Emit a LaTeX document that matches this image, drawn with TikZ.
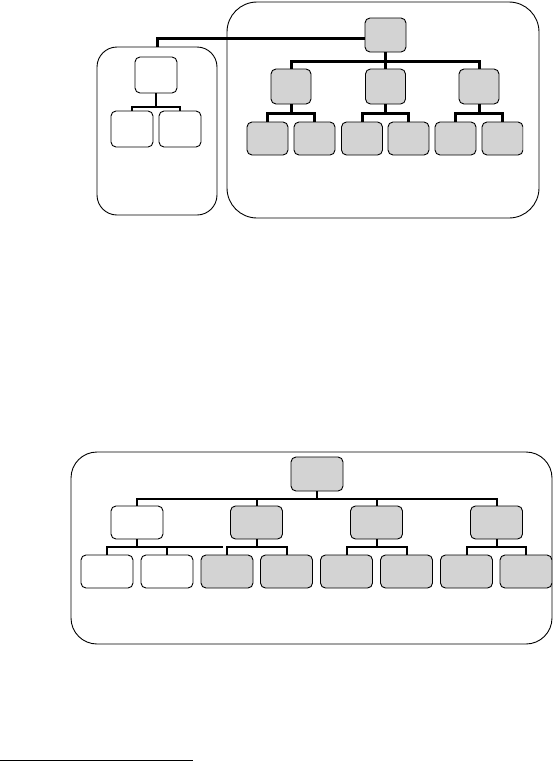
\documentclass[tikz,border=0pt]{standalone}
\usetikzlibrary{calc}
\definecolor{boxgray}{RGB}{211,211,211}
\tikzset{
  box/.style={draw=black, line width=0.9pt, rounded corners=5pt, inner sep=0pt, minimum height=34pt},
  gbox/.style={box, fill=boxgray},
  wbox/.style={box, fill=white},
  cont/.style={draw=black, line width=0.9pt, inner sep=0pt},
  thickwire/.style={line width=3pt},
  wire/.style={line width=2pt},
}
\begin{document}
\begin{tikzpicture}[x=1pt,y=-1pt]
\useasboundingbox (0,0) rectangle (553,761);
% ---------- top part ----------
\node[cont, rounded corners=30pt, minimum width=312pt, minimum height=216pt] (RC) at (383,110) {};
\node[cont, rounded corners=20pt, minimum width=120pt, minimum height=168pt] (LC) at (157,131) {};
% right tree
\node[gbox, minimum width=41pt, minimum height=34pt] (R) at (385.5,35) {};
\node[gbox, minimum width=40pt, minimum height=35pt] (m1) at (291,86.5) {};
\node[gbox, minimum width=40pt, minimum height=35pt] (m2) at (385.5,86.5) {};
\node[gbox, minimum width=40pt, minimum height=35pt] (m3) at (479,86.5) {};
\node[gbox, minimum width=41pt, minimum height=33pt] (b1) at (267.5,138.5) {};
\node[gbox, minimum width=41pt, minimum height=33pt] (b2) at (314.5,138.5) {};
\node[gbox, minimum width=41pt, minimum height=33pt] (b3) at (362,138.5) {};
\node[gbox, minimum width=41pt, minimum height=33pt] (b4) at (408.5,138.5) {};
\node[gbox, minimum width=41pt, minimum height=33pt] (b5) at (455.5,138.5) {};
\begin{scope}
\clip (400,100) rectangle (523,170);
\node[gbox, minimum width=41pt, minimum height=33pt] (b6) at (502.5,138.5) {};
\end{scope}
\coordinate (busT) at (0,61);
\coordinate (busS) at (0,113);
\draw[thickwire] (R.south) -- (R.south |- busT);
\draw[thickwire] (m1.north) -- (m1.north |- busT) -- (m3.north |- busT) -- (m3.north);
\draw[thickwire] (m2.north) -- (m2.north |- busT);
\foreach \p/\a/\b in {m1/b1/b2, m2/b3/b4, m3/b5/b6}{
  \draw[thickwire] (\p.south) -- (\p.south |- busS);
  \draw[thickwire] (\a.north) -- (\a.north |- busS) -- (\b.north |- busS) -- (\b.north);
}
% left tree
\node[wbox, minimum width=42pt, minimum height=36pt] (L) at (156,75) {};
\node[wbox, minimum width=42pt, minimum height=36pt] (l1) at (132,129) {};
\node[wbox, minimum width=42pt, minimum height=36pt] (l2) at (180,129) {};
\coordinate (busL) at (0,107);
\draw[wire] (L.south) -- (L.south |- busL);
\draw[wire] (l1.north) -- (l1.north |- busL) -- (l2.north |- busL) -- (l2.north);
% link between trees
\draw[thickwire] ([yshift=-3pt]R.west) -| (LC.north);
% ---------- bottom part ----------
\node[cont, rounded corners=26pt, minimum width=481pt, minimum height=192pt] (BC) at (311.5,548) {};
\node[gbox, minimum width=52pt, minimum height=34pt] (BR) at (317,474) {};
\node[wbox, minimum width=52pt, minimum height=33pt] (n1) at (137,522.5) {};
\node[gbox, minimum width=52pt, minimum height=33pt] (n2) at (256.5,522.5) {};
\node[gbox, minimum width=52pt, minimum height=33pt] (n3) at (376.5,522.5) {};
\node[gbox, minimum width=52pt, minimum height=33pt] (n4) at (496.5,522.5) {};
\node[wbox, minimum width=52pt, minimum height=33pt] (k1) at (107,571.5) {};
\node[wbox, minimum width=52pt, minimum height=33pt] (k2) at (167,571.5) {};
\node[gbox, minimum width=52pt, minimum height=33pt] (k3) at (227,571.5) {};
\node[gbox, minimum width=52pt, minimum height=33pt] (k4) at (286.5,571.5) {};
\node[gbox, minimum width=52pt, minimum height=33pt] (k5) at (346.5,571.5) {};
\node[gbox, minimum width=52pt, minimum height=33pt] (k6) at (406.5,571.5) {};
\node[gbox, minimum width=52pt, minimum height=33pt] (k7) at (466.5,571.5) {};
\begin{scope}
\clip (480,540) rectangle (552,600);
\node[gbox, minimum width=52pt, minimum height=33pt] (k8) at (526,571.5) {};
\end{scope}
\coordinate (busB) at (0,499);
\coordinate (busC) at (0,547);
\coordinate (ext) at (223,547);
\draw[wire] (BR.south) -- (BR.south |- busB);
\draw[wire] (n1.north) -- (n1.north |- busB) -- (n4.north |- busB) -- (n4.north);
\draw[wire] (n2.north) -- (n2.north |- busB);
\draw[wire] (n3.north) -- (n3.north |- busB);
\foreach \p/\a/\b in {n1/k1/k2, n2/k3/k4, n3/k5/k6, n4/k7/k8}{
  \draw[wire] (\p.south) -- (\p.south |- busC);
  \draw[wire] (\a.north) -- (\a.north |- busC) -- (\b.north |- busC) -- (\b.north);
}
\draw[wire] (k2.north |- busC) -- (ext);
% footnote rule
\coordinate (fr1) at (0,760);
\coordinate (fr2) at (193,760);
\draw[line width=1pt] (fr1) -- (fr2);
\end{tikzpicture}
\end{document}
